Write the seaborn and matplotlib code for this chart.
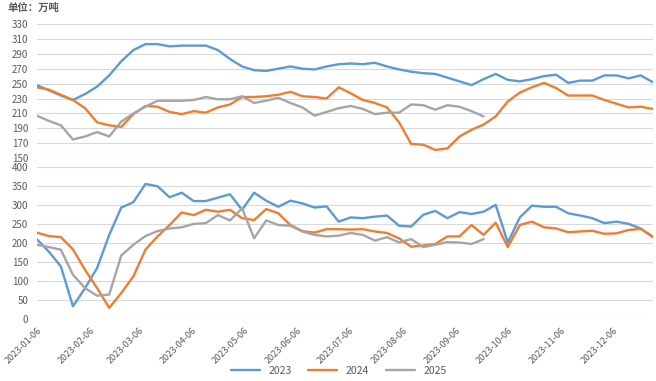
import pandas as pd
import numpy as np
import matplotlib
matplotlib.use("Agg")
import matplotlib.pyplot as plt
import matplotlib.dates as mdates
import seaborn as sns

# weekly dates (2023 calendar used as common x axis)
dates = pd.date_range("2023-01-06", periods=52, freq="7D")
years = ["2023", "2024", "2025"]
colors = ["#5B9BD5", "#ED7D31", "#A5A5A5"]

# upper panel
top_2023 = [248, 241, 234, 228, 236, 246, 261, 280, 295, 303, 303, 300, 301, 301, 301, 295,
            283, 273, 268, 267, 270, 273, 270, 269, 273, 276, 277, 276, 278, 273, 269, 266,
            264, 263, 258, 253, 248, 256, 263, 255, 253, 256, 260, 262, 251, 254, 254, 261,
            261, 257, 261, 252]
top_2024 = [245, 242, 235, 228, 217, 198, 194, 192, 209, 220, 219, 212, 209, 213, 211, 218,
            222, 232, 232, 233, 235, 239, 233, 232, 230, 245, 237, 228, 224, 218, 198, 169,
            168, 161, 163, 179, 188, 195, 206, 226, 238, 245, 251, 244, 234, 234, 234, 228,
            223, 218, 219, 216]
top_2025 = [207, 200, 194, 175, 179, 185, 179, 199, 210, 219, 227, 227, 227, 228, 232, 229,
            229, 233, 224, 227, 231, 224, 218, 207, 212, 217, 220, 216, 209, 211, 211, 222,
            221, 215, 221, 219, 213, 206]

# lower panel
bot_2023 = [210, 177, 138, 33, 81, 134, 221, 293, 307, 355, 349, 320, 332, 310, 310, 319,
            328, 287, 332, 311, 295, 311, 304, 293, 296, 256, 267, 265, 269, 272, 245, 243,
            274, 284, 265, 281, 276, 282, 300, 201, 267, 298, 295, 295, 278, 272, 265, 252,
            256, 250, 238, 215]
bot_2024 = [227, 218, 215, 183, 129, 81, 29, 68, 112, 182, 217, 247, 280, 273, 287, 282,
            287, 265, 260, 289, 278, 247, 231, 227, 236, 236, 235, 236, 230, 226, 212, 190,
            193, 197, 217, 217, 247, 221, 253, 189, 247, 256, 241, 238, 228, 230, 232, 224,
            225, 234, 237, 217]
bot_2025 = [195, 189, 182, 116, 81, 61, 64, 167, 195, 218, 231, 238, 241, 250, 252, 273,
            259, 291, 212, 259, 247, 245, 230, 221, 217, 219, 226, 221, 206, 215, 201, 210,
            189, 195, 202, 201, 197, 210]


def to_long(series):
    rows = []
    for yr, vals in zip(years, series):
        for d, v in zip(dates[:len(vals)], vals):
            rows.append({"date": d, "value": v, "year": yr})
    return pd.DataFrame(rows)


df_top = to_long([top_2023, top_2024, top_2025])
df_bot = to_long([bot_2023, bot_2024, bot_2025])

sns.set_style("white")
plt.rcParams["font.family"] = ["Noto Sans CJK SC", "DejaVu Sans"]
txt = "#595959"
grid = "#D9D9D9"

fig = plt.figure(figsize=(6.56, 3.81), dpi=100)
ax1 = fig.add_axes([0.056, 0.585, 0.939, 0.352])
ax2 = fig.add_axes([0.056, 0.163, 0.939, 0.399])

pal = dict(zip(years, colors))
sns.lineplot(data=df_top, x="date", y="value", hue="year", palette=pal, ax=ax1,
             linewidth=1.7, legend=False)
sns.lineplot(data=df_bot, x="date", y="value", hue="year", palette=pal, ax=ax2,
             linewidth=1.7, legend=True)

for ax in (ax1, ax2):
    ax.set_xlim(dates[0], dates[-1])
    ax.set_xlabel("")
    ax.set_ylabel("")
    for s in ax.spines.values():
        s.set_visible(False)
    ax.grid(axis="y", color=grid, linewidth=0.8)
    ax.set_axisbelow(True)
    ax.tick_params(axis="y", length=0, labelsize=7, labelcolor=txt, pad=6)
    ax.xaxis.set_major_locator(mdates.MonthLocator(bymonthday=6))

ax1.set_ylim(150, 330)
ax1.set_yticks(np.arange(150, 331, 20))
ax1.tick_params(axis="x", length=0, labelbottom=False)

ax2.set_ylim(0, 400)
ax2.set_yticks(np.arange(0, 401, 50))
ax2.xaxis.set_major_formatter(mdates.DateFormatter("%Y-%m-%d"))
ax2.tick_params(axis="x", length=3, color=grid, labelsize=6.5, labelcolor=txt, pad=2)
for lab in ax2.get_xticklabels():
    lab.set_rotation(45)
    lab.set_ha("right")
    lab.set_rotation_mode("anchor")

sns.move_legend(ax2, "center", bbox_to_anchor=(0.49, -0.34), ncol=3, frameon=False,
                title=None, fontsize=7.5, handlelength=2.8, columnspacing=1.6)
for t in ax2.get_legend().get_texts():
    t.set_color(txt)

fig.text(0.012, 0.992, "单位：万吨", fontsize=7.5, fontweight="bold", color=txt, va="top")

fig.savefig("out.png", dpi=100)
